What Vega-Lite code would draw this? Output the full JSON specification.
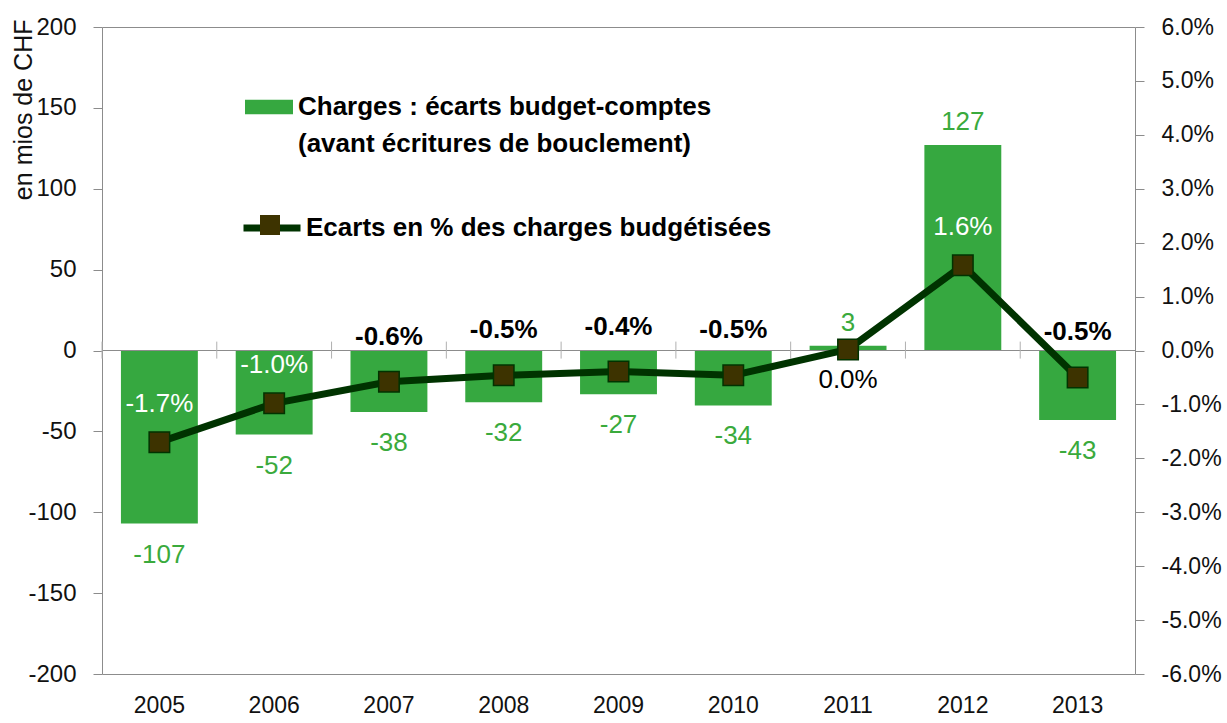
{
  "$schema": "https://vega.github.io/schema/vega-lite/v6.json",
  "width": 1033,
  "height": 647,
  "autosize": {"type": "none"},
  "padding": {"left": 102, "top": 27, "right": 92, "bottom": 49},
  "background": "white",
  "config": {
    "view": {"stroke": "#8c8c8c", "strokeWidth": 1},
    "font": "Liberation Sans",
    "axis": {"labelFont": "Liberation Sans", "titleFont": "Liberation Sans", "labelColor": "#111111", "titleColor": "#111111", "domain": false, "grid": false, "tickColor": "#8c8c8c"},
    "legend": {"labelFont": "Liberation Sans", "titleFont": "Liberation Sans"},
    "style": {"guide-label": {"lineHeight": 37}}
  },
  "data": {
    "values": [
      {"year": "2005", "charges": -107, "pct": -0.0170},
      {"year": "2006", "charges": -52, "pct": -0.0098},
      {"year": "2007", "charges": -38, "pct": -0.0058},
      {"year": "2008", "charges": -32, "pct": -0.0046},
      {"year": "2009", "charges": -27, "pct": -0.0039},
      {"year": "2010", "charges": -34, "pct": -0.0046},
      {"year": "2011", "charges": 3, "pct": 0.0002},
      {"year": "2012", "charges": 127, "pct": 0.0158},
      {"year": "2013", "charges": -43, "pct": -0.0050}
    ]
  },
  "transform": [
    {"calculate": "replace(format(datum.pct, '.1%'), '\u2212', '-')", "as": "pctLabel"}
  ],
  "layer": [
    {
      "encoding": {
        "y": {"field": "charges", "type": "quantitative", "scale": {"domain": [-200, 200], "nice": false, "zero": false},
          "axis": {"orient": "left", "title": "en mios de CHF", "values": [-200, -150, -100, -50, 0, 50, 100, 150, 200], "labelExpr": "replace(datum.label, '\u2212', '-')", "labelFontSize": 24, "tickSize": 9, "labelPadding": 17, "titleFontSize": 25, "titleFontWeight": "normal", "titleAngle": -90, "titleX": -79, "titleY": -8, "titleAlign": "right", "titleBaseline": "middle"}}
      },
      "layer": [
        {
          "mark": {"type": "bar", "width": {"band": 0.67}},
          "encoding": {
            "x": {"field": "year", "type": "nominal", "scale": {"paddingInner": 0, "paddingOuter": 0}, "axis": {"title": null, "labelAngle": 0, "labelFontSize": 23, "ticks": false, "labelPadding": 20, "labelBaseline": "top"}},
            "color": {"datum": "Charges : écarts budget-comptes", "scale": {"range": ["#36a840"]},
              "legend": {"orient": "none", "legendX": 143, "legendY": 56, "title": null, "padding": 0, "symbolType": "M-1,-0.3H1V0.3H-1Z", "symbolSize": 2304, "symbolStrokeWidth": 0, "symbolOpacity": 1, "labelExpr": "['Charges : écarts budget-comptes', '(avant écritures de bouclement)']", "labelFontSize": 26, "labelFontWeight": "bold", "labelColor": "#000000", "labelLimit": 0, "labelOffset": 5}}
          }
        },
        {
          "mark": {"type": "rule", "color": "#8c8c8c", "strokeWidth": 1},
          "encoding": {"y": {"datum": 0}}
        },
        {
          "mark": {"type": "rule", "color": "#b0b0b0", "strokeWidth": 1},
          "encoding": {
            "x": {"field": "year", "type": "nominal", "bandPosition": 0},
            "y": {"datum": 5.5},
            "y2": {"datum": -5}
          }
        },
        {
          "transform": [{"filter": "datum.charges < 0"}],
          "mark": {"type": "text", "baseline": "middle", "dy": 31, "fontSize": 26, "color": "#3aaa3c"},
          "encoding": {
            "x": {"field": "year", "type": "nominal"},
            "text": {"field": "charges", "type": "nominal"}
          }
        },
        {
          "transform": [{"filter": "datum.charges > 0"}],
          "mark": {"type": "text", "baseline": "middle", "dy": -23, "fontSize": 26, "color": "#3aaa3c"},
          "encoding": {
            "x": {"field": "year", "type": "nominal"},
            "text": {"field": "charges", "type": "nominal"}
          }
        }
      ]
    },
    {
      "encoding": {
        "y": {"field": "pct", "type": "quantitative", "scale": {"domain": [-0.06, 0.06], "nice": false, "zero": false},
          "axis": {"orient": "right", "title": null, "format": ".1%", "labelExpr": "replace(datum.label, '\u2212', '-')", "values": [-0.06, -0.05, -0.04, -0.03, -0.02, -0.01, 0, 0.01, 0.02, 0.03, 0.04, 0.05, 0.06], "labelFontSize": 23, "tickSize": 9, "labelPadding": 17}}
      },
      "layer": [
        {
          "mark": {"type": "line", "strokeWidth": 7, "strokeJoin": "round"},
          "encoding": {
            "x": {"field": "year", "type": "nominal"},
            "stroke": {"datum": "Ecarts en % des charges budgétisées", "scale": {"range": ["#003300"]},
              "legend": {"orient": "none", "legendX": 138, "legendY": 169, "title": null, "padding": 0, "symbolType": "M-1,0H1", "symbolSize": 3249, "symbolStrokeWidth": 7, "labelFontSize": 26, "labelFontWeight": "bold", "labelColor": "#000000", "labelLimit": 0, "labelOffset": 2}}
          }
        },
        {
          "mark": {"type": "point", "filled": true, "size": 420, "fill": "#3d3300", "stroke": "#003300", "strokeWidth": 1.5, "opacity": 1},
          "encoding": {
            "x": {"field": "year", "type": "nominal"},
            "shape": {"datum": "sq", "scale": {"range": ["square"]},
              "legend": {"orient": "none", "legendX": 155, "legendY": 185, "title": null, "padding": 0, "symbolSize": 400, "symbolFillColor": "#3d3300", "symbolStrokeColor": "#003300", "symbolStrokeWidth": 1.5, "labelFontSize": 26, "labelExpr": "''", "labelOpacity": 0}}
          }
        },
        {
          "transform": [{"filter": "datum.year == '2005' || datum.year == '2006' || datum.year == '2012'"}],
          "mark": {"type": "text", "baseline": "middle", "dy": -38, "fontSize": 26, "color": "#ffffff"},
          "encoding": {
            "x": {"field": "year", "type": "nominal"},
            "text": {"field": "pctLabel", "type": "nominal"}
          }
        },
        {
          "transform": [{"filter": "datum.year == '2007' || datum.year == '2008' || datum.year == '2009' || datum.year == '2010' || datum.year == '2013'"}],
          "mark": {"type": "text", "baseline": "middle", "dy": -45, "fontSize": 26, "fontWeight": "bold", "color": "#000000"},
          "encoding": {
            "x": {"field": "year", "type": "nominal"},
            "text": {"field": "pctLabel", "type": "nominal"}
          }
        },
        {
          "transform": [{"filter": "datum.year == '2011'"}],
          "mark": {"type": "text", "baseline": "middle", "dy": 31, "fontSize": 26, "color": "#000000"},
          "encoding": {
            "x": {"field": "year", "type": "nominal"},
            "text": {"field": "pctLabel", "type": "nominal"}
          }
        }
      ]
    }
  ],
  "resolve": {"scale": {"y": "independent"}}
}
